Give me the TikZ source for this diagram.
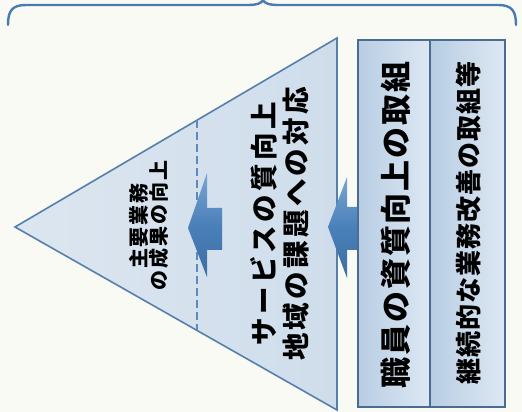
\documentclass[tikz,border=0pt]{standalone}
\usepackage{fontspec}
\newfontfamily\jpbox[LetterSpace=6]{Noto Sans CJK JP}
\newfontfamily\jpboxb[LetterSpace=4]{Noto Sans CJK JP}
\newfontfamily\jptri[LetterSpace=12]{Noto Sans CJK JP}
\newfontfamily\jpsmall[LetterSpace=10]{Noto Sans CJK JP}
\usetikzlibrary{calc}
\definecolor{bg}{HTML}{FAFAF5}
\definecolor{edge}{HTML}{5580AC}
\definecolor{boxedge}{HTML}{4A6C90}
\definecolor{braceblue}{HTML}{4A7BB0}
\definecolor{trileft}{HTML}{DCE6F0}
\definecolor{triright}{HTML}{CFDDEB}
\definecolor{boxleft}{HTML}{B8CDE3}
\definecolor{boxright}{HTML}{DDE8F3}
\definecolor{arrtop}{HTML}{7AA6D2}
\definecolor{arrmid}{HTML}{4A80B9}
\definecolor{arrbot}{HTML}{3C6DA1}
\definecolor{dashblue}{HTML}{5B8BBD}
\tikzset{
  boxstyle/.style={draw=boxedge, line width=1.8pt, left color=boxleft, right color=boxright, inner sep=0pt},
  bracestyle/.style={draw=braceblue, line width=2.4pt, line cap=round},
  dashline/.style={draw=dashblue, line width=2.4pt, dash pattern=on 8pt off 4pt},
  arrowshape/.style={top color=arrtop, bottom color=arrbot, middle color=arrmid},
  txt/.style={rotate=90, inner sep=0pt, text=black, align=center}
}
\begin{document}
\begin{tikzpicture}[x=1pt,y=1pt]
\fill[bg] (0,0) rectangle (522,412);
\useasboundingbox (0,0) rectangle (522,412);
% brace
\draw[bracestyle] (8,387) .. controls (8,401) and (12,407) .. (26,407) -- (248,407)
  .. controls (257,407) and (262,409) .. (263,412)
  .. controls (264,409) and (269,407) .. (278,407) -- (498,407)
  .. controls (512,407) and (516,401) .. (516,387);
% triangle
\coordinate (apex) at (15,185);
\coordinate (tr) at (337,374);
\coordinate (br) at (337,2);
\shade[left color=trileft, right color=triright, draw=edge, line width=1.6pt, line join=miter]
  (apex) -- (tr) -- (br) -- cycle;
\draw[dashline] ($(apex)!0.565!(tr)$) -- ($(apex)!0.565!(br)$);
% boxes
\node[boxstyle, minimum width=72pt, minimum height=367pt] (box1) at (394,188.5) {};
\node[boxstyle, minimum width=75pt, minimum height=367pt] (box2) at (467.5,188.5) {};
% arrows
\shade[arrowshape] (188,184) -- (207,239) -- (207,204) -- (222,204) -- (222,162) -- (207,162) -- (207,135) -- cycle;
\shade[arrowshape] (328,185) -- (347,235) -- (347,205) -- (357,205) -- (357,162) -- (347,162) -- (347,134) -- cycle;
% texts
\node[txt, font=\jpbox\bfseries\fontsize{31}{34}\selectfont] (t1) at (396,187) {職員の資質向上の取組};
\node[txt, font=\jpboxb\bfseries\fontsize{26}{28}\selectfont] (t2) at (469,189) {継続的な業務改善の取組等};
\node[txt, font=\jptri\bfseries\fontsize{27.5}{32}\selectfont] (t3) at (280,188) {サービスの質向上\\地域の課題への対応};
\node[txt, font=\jpsmall\bfseries\fontsize{20}{19.5}\selectfont] (t4) at (149,186) {主要業務\\の成果の向上};
\end{tikzpicture}
\end{document}
